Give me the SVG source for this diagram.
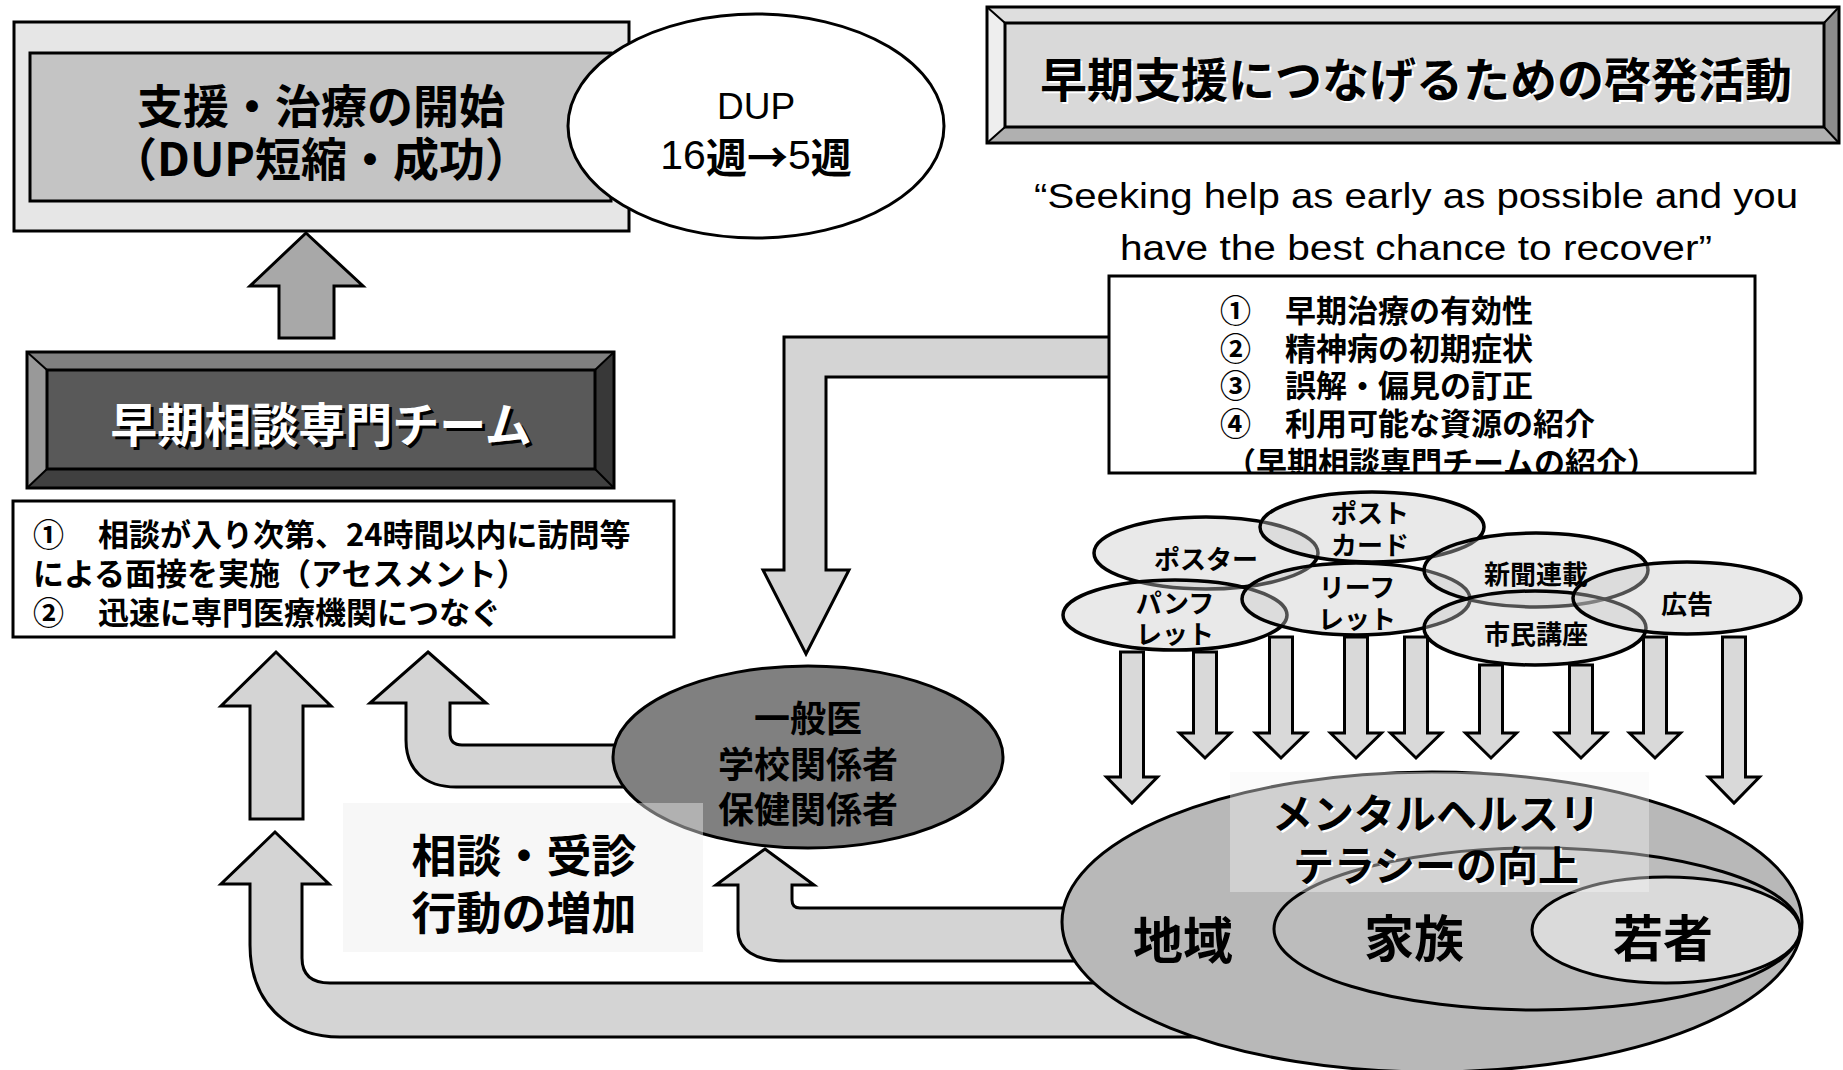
<svg xmlns="http://www.w3.org/2000/svg" width="1843" height="1070" viewBox="0 0 1843 1070">
<defs>
<style>
.jp{font-family:"Noto Sans CJK JP","Noto Sans CJK SC",sans-serif;font-weight:bold;}
.en{font-family:"Liberation Sans",Arial,sans-serif;}
.c{text-anchor:middle;dominant-baseline:central;}
.l{dominant-baseline:central;}
.bline{stroke:#000;stroke-width:3;}
.arr{fill:#d4d4d4;stroke:#000;stroke-width:3;stroke-linejoin:miter;}
.darr{fill:#d9d9d9;stroke:#000;stroke-width:3;}
.media{fill:#c8c8c8;fill-opacity:0.4;stroke:#000;stroke-width:3.5;}
.mt{font-size:26px;}
</style>
<clipPath id="listClip"><rect x="1109" y="276" width="646" height="197"/></clipPath>
</defs>
<rect width="1843" height="1070" fill="#fff"/>

<g id="connectors">
  <path class="arr" style="fill:#a8a8a8" d="M306,233 L363,286 L334,286 L334,338 L279,338 L279,286 L250,286 Z"/>
  <path class="arr" d="M1118,337 L784,337 L784,570 L763,570 L806,654 L849,570 L826,570 L826,377 L1118,377 Z"/>
  <path class="arr" d="M276,652 L331,706 L303,706 L303,819 L250,819 L250,706 L221,706 Z"/>
  <path class="arr" d="M428,652 L486,703 L450,703 L450,733 Q450,745 462,745 L650,745 L650,787 L456,787 C425,787 406,770 406,740 L406,703 L370,703 Z"/>
  <path class="arr" d="M275,832 L329,884 L302,884 L302,958 Q302,983 330,983 L1250,983 L1250,1037 L340,1037 C285,1037 250,1000 250,945 L250,884 L221,884 Z"/>
  <path class="arr" d="M765,849 L814,885 L792,885 L792,900 Q792,908 800,908 L1150,908 L1150,961 L786,961 C755,961 738,950 738,930 L738,885 L716,885 Z"/>
  <path class="darr" d="M1120.5,652 H1143.5 V777 H1157.5 L1132,803 L1106.5,777 H1120.5 Z"/>
  <path class="darr" d="M1193.5,652 H1216.5 V733 H1230.5 L1205,758 L1179.5,733 H1193.5 Z"/>
  <path class="darr" d="M1269.5,637 H1292.5 V733 H1306.5 L1281,758 L1255.5,733 H1269.5 Z"/>
  <path class="darr" d="M1344.5,637 H1367.5 V733 H1381.5 L1356,758 L1330.5,733 H1344.5 Z"/>
  <path class="darr" d="M1404.5,637 H1427.5 V733 H1441.5 L1416,758 L1390.5,733 H1404.5 Z"/>
  <path class="darr" d="M1479.5,665 H1502.5 V733 H1516.5 L1491,758 L1465.5,733 H1479.5 Z"/>
  <path class="darr" d="M1569.5,665 H1592.5 V733 H1606.5 L1581,758 L1555.5,733 H1569.5 Z"/>
  <path class="darr" d="M1643.5,637 H1666.5 V733 H1680.5 L1655,758 L1629.5,733 H1643.5 Z"/>
  <path class="darr" d="M1722.5,637 H1745.5 V777 H1759.5 L1734,803 L1708.5,777 H1722.5 Z"/>
</g>

<g id="node-start">
  <rect x="14" y="22" width="615" height="209" fill="#e6e6e6" class="bline"/>
  <rect x="30" y="53" width="581" height="148" fill="#c4c4c4" class="bline"/>
  <text class="jp c" x="321" y="103" font-size="46">支援・治療の開始</text>
  <text class="jp c" x="321" y="156" font-size="46">（DUP短縮・成功）</text>
</g>

<g id="node-dup">
  <ellipse cx="756" cy="126" rx="188" ry="112" fill="#fff" class="bline"/>
  <text class="en c" x="756" y="106" font-size="37">DUP</text>
  <text class="c" x="756" y="155" font-size="41"><tspan class="en">16</tspan><tspan class="jp">週→</tspan><tspan class="en">5</tspan><tspan class="jp">週</tspan></text>
</g>

<g id="node-campaign">
  <polygon points="987,7 1839,7 1824,23 1005,23" fill="#dedede"/>
  <polygon points="987,7 1005,23 1005,127 987,143" fill="#eeeeee"/>
  <polygon points="987,143 1005,127 1824,127 1839,143" fill="#b0b0b0"/>
  <polygon points="1839,7 1839,143 1824,127 1824,23" fill="#8c8c8c"/>
  <rect x="1005" y="23" width="819" height="104" fill="#d9d9d9" class="bline"/>
  <rect x="987" y="7" width="852" height="136" fill="none" class="bline"/>
  <path d="M987,7 L1005,23 M1839,7 L1824,23 M987,143 L1005,127 M1839,143 L1824,127" stroke="#000" stroke-width="2"/>
  <text class="jp c" x="1418" y="78" font-size="47" fill="#fff">早期支援につなげるための啓発活動</text>
  <text class="jp c" x="1416" y="76" font-size="47" fill="#000">早期支援につなげるための啓発活動</text>
</g>

<g id="quote">
  <text class="en c" x="1416" y="195" font-size="35" textLength="764" lengthAdjust="spacingAndGlyphs">“Seeking help as early as possible and you</text>
  <text class="en c" x="1416" y="247" font-size="35" textLength="592" lengthAdjust="spacingAndGlyphs">have the best chance to recover”</text>
</g>

<g id="node-points">
  <rect x="1109" y="276" width="646" height="197" fill="#fff"/>
  <g clip-path="url(#listClip)" class="jp" font-size="31">
    <text class="l" x="1220" y="308">①</text><text class="l" x="1285" y="308">早期治療の有効性</text>
    <text class="l" x="1220" y="346">②</text><text class="l" x="1285" y="346">精神病の初期症状</text>
    <text class="l" x="1220" y="383">③</text><text class="l" x="1285" y="383">誤解・偏見の訂正</text>
    <text class="l" x="1220" y="421">④</text><text class="l" x="1285" y="421">利用可能な資源の紹介</text>
    <text class="l" x="1225" y="460">（早期相談専門チームの紹介）</text>
  </g>
  <rect x="1109" y="276" width="646" height="197" fill="none" class="bline"/>
</g>

<g id="node-team">
  <polygon points="27,352 614,352 595,370 47,370" fill="#808080"/>
  <polygon points="27,352 47,370 47,469 27,488" fill="#999999"/>
  <polygon points="27,488 47,469 595,469 614,488" fill="#404040"/>
  <polygon points="614,352 614,488 595,469 595,370" fill="#383838"/>
  <rect x="47" y="370" width="548" height="99" fill="#595959" class="bline"/>
  <rect x="27" y="352" width="587" height="136" fill="none" class="bline"/>
  <path d="M27,352 L47,370 M614,352 L595,370 M27,488 L47,469 M614,488 L595,469" stroke="#000" stroke-width="2"/>
  <text class="jp c" x="324" y="424" font-size="47" fill="#000">早期相談専門チーム</text>
  <text class="jp c" x="321" y="421" font-size="47" fill="#fff">早期相談専門チーム</text>
</g>

<g id="node-team-tasks">
  <rect x="13" y="501" width="661" height="136" fill="#fff" class="bline"/>
  <g class="jp" font-size="31">
    <text class="l" x="33" y="532">①</text><text class="l" x="98" y="532">相談が入り次第、24時間以内に訪問等</text>
    <text class="l" x="33" y="571">による面接を実施（アセスメント）</text>
    <text class="l" x="33" y="610">②</text><text class="l" x="98" y="610">迅速に専門医療機関につなぐ</text>
  </g>
</g>

<g id="node-gp">
  <ellipse cx="808" cy="757" rx="195" ry="91" fill="#808080" class="bline"/>
  <text class="jp c" x="808" y="716" font-size="36">一般医</text>
  <text class="jp c" x="808" y="762" font-size="36">学校関係者</text>
  <text class="jp c" x="808" y="807" font-size="36">保健関係者</text>
</g>

<g id="label-increase">
  <rect x="343" y="803" width="360" height="149" fill="#eeeeee" fill-opacity="0.45"/>
  <text class="jp c" x="524" y="853" font-size="45">相談・受診</text>
  <text class="jp c" x="524" y="910" font-size="45">行動の増加</text>
</g>

<g id="node-media">
  <ellipse class="media" cx="1206" cy="553" rx="112" ry="36"/>
  <ellipse class="media" cx="1372" cy="527" rx="112" ry="35"/>
  <ellipse class="media" cx="1175" cy="615" rx="112" ry="35"/>
  <ellipse class="media" cx="1356" cy="599" rx="114" ry="36"/>
  <ellipse class="media" cx="1536" cy="570" rx="112" ry="37"/>
  <ellipse class="media" cx="1535" cy="628" rx="111" ry="37"/>
  <ellipse class="media" cx="1687" cy="598" rx="114" ry="36"/>
  <g class="jp mt">
    <text class="c" x="1206" y="557">ポスター</text>
    <text class="c" x="1370" y="511">ポスト</text>
    <text class="c" x="1370" y="543">カード</text>
    <text class="c" x="1175" y="601">パンフ</text>
    <text class="c" x="1175" y="632">レット</text>
    <text class="c" x="1357" y="585">リーフ</text>
    <text class="c" x="1357" y="617">レット</text>
    <text class="c" x="1536" y="572">新聞連載</text>
    <text class="c" x="1536" y="632">市民講座</text>
    <text class="c" x="1687" y="602">広告</text>
  </g>
</g>

<g id="node-community">
  <ellipse cx="1432" cy="922" rx="370" ry="150" fill="#b8b8b8" class="bline"/>
  <ellipse cx="1537" cy="929" rx="263" ry="81" fill="#bcbcbc" class="bline"/>
  <ellipse cx="1666" cy="930" rx="134" ry="53" fill="#dadada" class="bline"/>
  <rect x="1230" y="772" width="419" height="120" fill="#f4f4f4" fill-opacity="0.4"/>
  <g class="jp" font-size="41">
    <text class="c" x="1438" y="813" fill="#fff">メンタルヘルスリ</text>
    <text class="c" x="1436" y="811">メンタルヘルスリ</text>
    <text class="c" x="1438" y="865" fill="#fff">テラシーの向上</text>
    <text class="c" x="1436" y="863">テラシーの向上</text>
  </g>
  <g class="jp" font-size="50">
    <text class="c" x="1183" y="937">地域</text>
    <text class="c" x="1414" y="935">家族</text>
    <text class="c" x="1663" y="935">若者</text>
  </g>
</g>
</svg>
